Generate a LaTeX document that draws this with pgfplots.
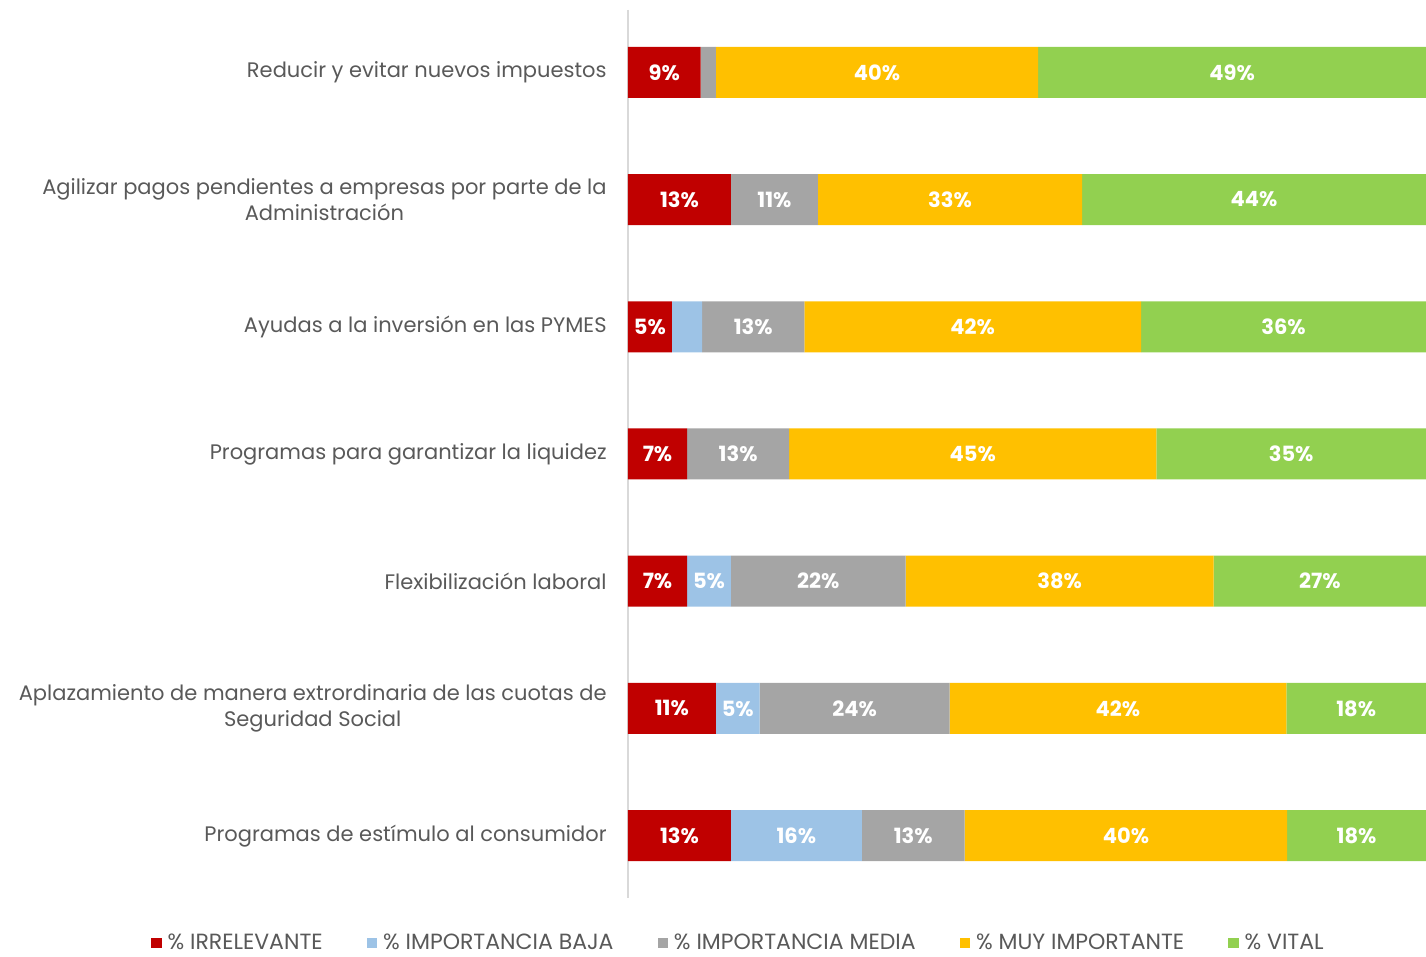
\documentclass[border=0pt]{standalone}
\usepackage{pgfplots}
\usepackage{pgfplotstable}
\pgfplotsset{compat=1.18}
\usepackage{fontspec}
\setmainfont{Poppins}
\definecolor{cRed}{HTML}{C00000}
\definecolor{cBlue}{HTML}{9DC3E6}
\definecolor{cGray}{HTML}{A5A5A5}
\definecolor{cYellow}{HTML}{FFC000}
\definecolor{cGreen}{HTML}{92D050}
\definecolor{txt}{HTML}{595959}
\definecolor{axl}{HTML}{D9D9D9}

\pgfplotstableread{
y x label
0 9.1 9\%
1 12.9 13\%
2 5.5 5\%
3 7.4 7\%
4 7.4 7\%
5 11.0 11\%
6 12.9 13\%
}\irr
\pgfplotstableread{
y x label
0 0 {}
1 0 {}
2 3.8 {}
3 0 {}
4 5.5 5\%
5 5.5 5\%
6 16.4 16\%
}\baja
\pgfplotstableread{
y x label
0 1.9 {}
1 10.9 11\%
2 12.8 13\%
3 12.8 13\%
4 21.9 22\%
5 23.8 24\%
6 12.9 13\%
}\media
\pgfplotstableread{
y x label
0 40.4 40\%
1 33.1 33\%
2 42.2 42\%
3 46.0 45\%
4 38.6 38\%
5 42.2 42\%
6 40.4 40\%
}\muy
\pgfplotstableread{
y x label
0 48.6 49\%
1 43.1 44\%
2 35.7 36\%
3 33.8 35\%
4 26.6 27\%
5 17.5 18\%
6 17.4 18\%
}\vital

\begin{document}
\begin{tikzpicture}
\begin{axis}[
  name=ax,
  scale only axis,
  width=399pt, height=444pt,
  xbar stacked,
  bar width=25.5pt,
  xmin=0, xmax=100,
  ymin=-0.49, ymax=6.49,
  y dir=reverse,
  axis line style={draw=none},
  axis x line=none,
  axis y line*=left,
  y axis line style={draw=axl, line width=1.2pt},
  ytick={0,...,6},
  yticklabels={
    {Reducir y evitar nuevos impuestos},
    {Agilizar pagos pendientes a empresas por parte de la\\Administración},
    {Ayudas a la inversión en las PYMES},
    {Programas para garantizar la liquidez},
    {Flexibilización laboral},
    {Aplazamiento de manera extrordinaria de las cuotas de\\Seguridad Social},
    {Programas de estímulo al consumidor}},
  yticklabel style={align=center, font=\fontsize{10.5}{13}\selectfont, text=txt, inner sep=0pt, xshift=-10.5pt},
  major tick length=0pt,
  point meta=explicit symbolic,
  nodes near coords,
  every node near coord/.append style={font=\fontsize{10.5}{12}\selectfont\bfseries, text=white},
  legend columns=5,
  legend style={draw=none, at={(0.1397,-0.0507)}, anchor=center,
    font=\fontsize{11}{12}\selectfont, text=txt,
    /tikz/every odd column/.append style={column sep=1pt},
    /tikz/every even column/.append style={column sep=20pt}},
  legend image code/.code={\fill[#1, draw=none] (0pt,-2.6pt) rectangle (5.2pt,2.6pt);},
]
\addplot[fill=cRed, draw=none] table[x=x, y=y, meta=label] {\irr};
\addplot[fill=cBlue, draw=none] table[x=x, y=y, meta=label] {\baja};
\addplot[fill=cGray, draw=none] table[x=x, y=y, meta=label] {\media};
\addplot[fill=cYellow, draw=none] table[x=x, y=y, meta=label] {\muy};
\addplot[fill=cGreen, draw=none] table[x=x, y=y, meta=label] {\vital};
\legend{\% IRRELEVANTE, \% IMPORTANCIA BAJA, \% IMPORTANCIA MEDIA, \% MUY IMPORTANTE, \% VITAL}
\end{axis}
\pgfresetboundingbox
\path (-314pt,-29.5pt) rectangle (399pt,449pt);
\end{tikzpicture}
\end{document}
